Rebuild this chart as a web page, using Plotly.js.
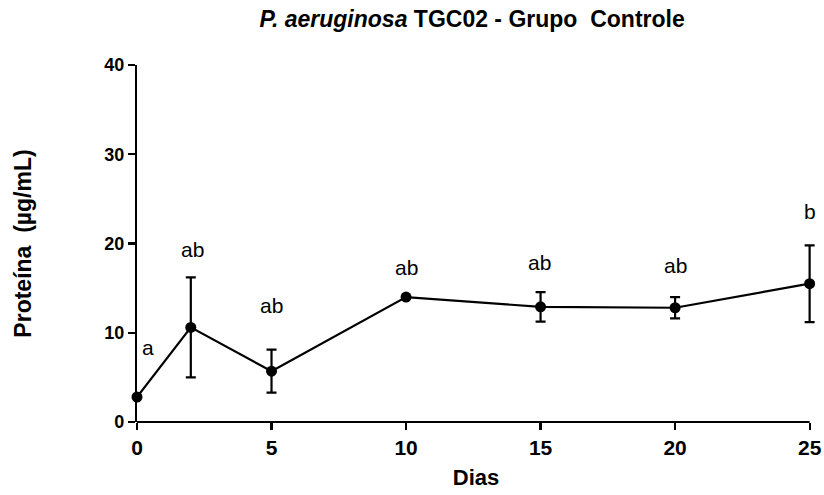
<!DOCTYPE html>
<html><head><meta charset="utf-8">
<script src="https://cdn.plot.ly/plotly-3.0.1.min.js"></script>
<style>body{margin:0;background:#fff}#c{width:824px;height:495px}</style>
</head><body><div id="c"></div>
<script>
const dias = [0, 2, 5, 10, 15, 20, 25];
const proteina = [2.8, 10.6, 5.7, 14.0, 12.9, 12.8, 15.5];
const erro = [0, 5.6, 2.4, 0, 1.65, 1.2, 4.3];
const letras = ['a', 'ab', 'ab', 'ab', 'ab', 'ab', 'b'];
const letraX = [0.4, 2.05, 5.0, 10.0, 14.95, 20.0, 25.0];
const letraY = [8.4, 19.3, 13.1, 17.3, 17.9, 17.5, 23.6];
const xTicks = [0, 5, 10, 15, 20, 25];
const yTicks = [0, 10, 20, 30, 40];

const trace = {
  x: dias, y: proteina, type: 'scatter', mode: 'lines+markers',
  line: {color: '#000', width: 2.2},
  marker: {color: '#000', size: 11},
  error_y: {type: 'data', array: erro, visible: true, color: '#000', thickness: 2.2, width: 5},
  cliponaxis: false, hoverinfo: 'none'
};
const ann = letras.map((t, i) => ({
  x: letraX[i], y: letraY[i], text: t, showarrow: false,
  font: {family: 'Liberation Sans, Arial', size: 21, color: '#000'}
}));
const layout = {
  width: 824, height: 495,
  margin: {l: 137, r: 9, t: 65, b: 73},
  paper_bgcolor: '#fff', plot_bgcolor: '#fff',
  showlegend: false,
  title: {text: '<i>P. aeruginosa</i> TGC02 - Grupo  Controle', x: 0.573, xanchor: 'center', y: 0.962, yanchor: 'middle',
    font: {family: 'Liberation Sans, Arial', size: 23, color: '#000', weight: 'bold'}},
  xaxis: {range: [0, 25.2], tickvals: xTicks, ticktext: xTicks.map(String), showgrid: false, zeroline: false,
    showline: false, ticks: 'outside', ticklen: 7, tickwidth: 2.2, tickcolor: '#000',
    tickfont: {family: 'Liberation Sans Narrow, Arial Narrow, Liberation Sans', size: 21, color: '#000', weight: 'bold'},
    title: {text: 'Dias', standoff: 11, font: {family: 'Liberation Sans, Arial', size: 22, color: '#000', weight: 'bold'}}},
  yaxis: {range: [0, 40], tickvals: yTicks, ticktext: yTicks.map(String), showgrid: false, zeroline: false,
    showline: true, linecolor: '#000', linewidth: 2.2, ticks: 'outside', ticklen: 7, tickwidth: 2.2, tickcolor: '#000',
    tickfont: {family: 'Liberation Sans, Arial', size: 18, color: '#000', weight: 'bold'},
    title: {text: 'Proteína  (µg/mL)', standoff: 66, font: {family: 'Liberation Sans, Arial', size: 23, color: '#000', weight: 'bold'}}},
  shapes: [{type: 'line', xref: 'x', yref: 'paper', x0: xTicks[0], x1: xTicks[xTicks.length - 1], y0: 0, y1: 0,
    line: {color: '#000', width: 2.2}}],
  annotations: ann
};
Plotly.newPlot('c', [trace], layout, {staticPlot: true});
</script></body></html>
